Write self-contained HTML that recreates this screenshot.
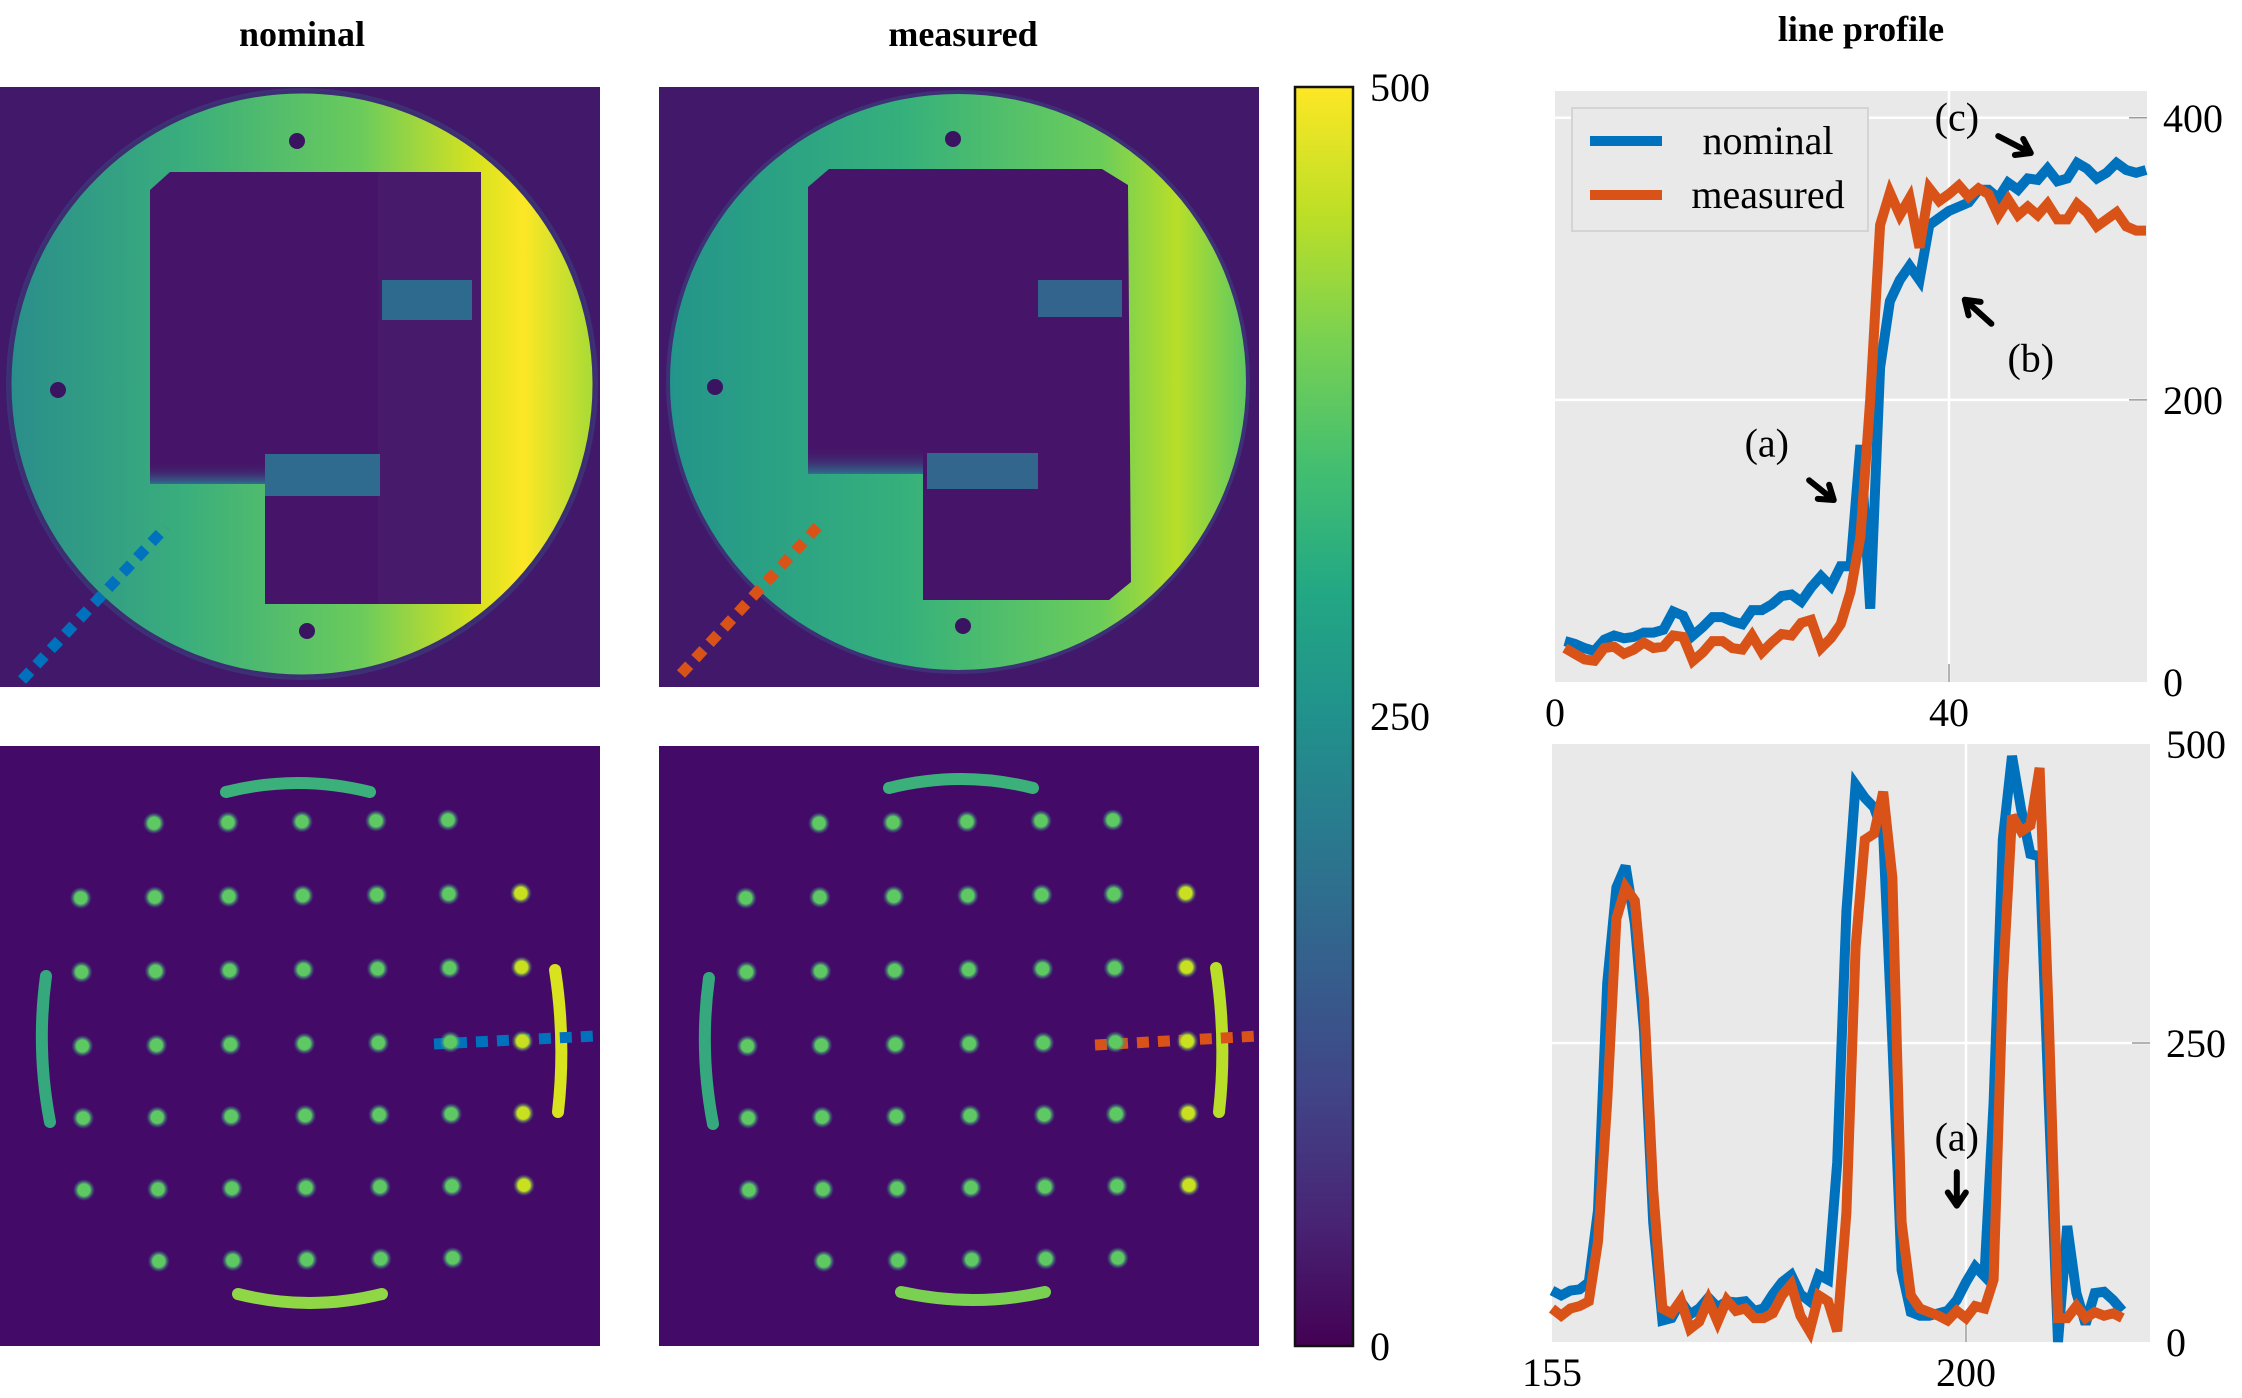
<!DOCTYPE html>
<html><head><meta charset="utf-8"><style>
html,body{margin:0;padding:0;background:#fff;}
#root{position:relative;width:2242px;height:1398px;overflow:hidden;font-family:"Liberation Serif",serif;}
svg text{font-family:"Liberation Serif",serif;}
</style></head><body>
<div id="root">
<svg id="fig" width="2242" height="1398" viewBox="0 0 2242 1398" xmlns="http://www.w3.org/2000/svg">
<defs>
  <linearGradient id="gNom" x1="0" y1="0" x2="1" y2="0">
    <stop offset="0" stop-color="#2a8e8b"/><stop offset="0.3" stop-color="#3aae7c"/>
    <stop offset="0.6" stop-color="#6acb5c"/><stop offset="0.8" stop-color="#d8e21f"/>
    <stop offset="0.88" stop-color="#fde725"/><stop offset="1" stop-color="#a6db36"/>
  </linearGradient>
  <linearGradient id="gMea" x1="0" y1="0" x2="1" y2="0">
    <stop offset="0" stop-color="#23958a"/><stop offset="0.4" stop-color="#35b07c"/>
    <stop offset="0.75" stop-color="#6ccd5a"/><stop offset="0.88" stop-color="#b8de29"/>
    <stop offset="1" stop-color="#5fc961"/>
  </linearGradient>
  <linearGradient id="viridis" x1="0" y1="1" x2="0" y2="0">
    <stop offset="0" stop-color="#440154"/><stop offset="0.1" stop-color="#482475"/>
    <stop offset="0.2" stop-color="#414487"/><stop offset="0.3" stop-color="#355f8d"/>
    <stop offset="0.4" stop-color="#2a788e"/><stop offset="0.5" stop-color="#21918c"/>
    <stop offset="0.6" stop-color="#22a884"/><stop offset="0.7" stop-color="#44bf70"/>
    <stop offset="0.8" stop-color="#7ad151"/><stop offset="0.9" stop-color="#bddf26"/>
    <stop offset="1" stop-color="#fde725"/>
  </linearGradient>
  <linearGradient id="fadeBand" x1="0" y1="0" x2="0" y2="1">
    <stop offset="0" stop-color="#451466" stop-opacity="0"/><stop offset="1" stop-color="#2f6f8e"/>
  </linearGradient>
  <radialGradient id="dotG"><stop offset="0.55" stop-color="#5ec962"/><stop offset="1" stop-color="#2a788e" stop-opacity="0"/></radialGradient>
  <radialGradient id="dotY"><stop offset="0.55" stop-color="#c8e020"/><stop offset="1" stop-color="#2a788e" stop-opacity="0"/></radialGradient>
</defs>

<text x="302" y="46" text-anchor="middle" font-size="36" font-weight="bold">nominal</text>
<text x="963" y="46" text-anchor="middle" font-size="36" font-weight="bold">measured</text>
<text x="1861" y="41" text-anchor="middle" font-size="36" font-weight="bold">line profile</text>

<g transform="translate(0,87)">
  <rect width="600" height="600" fill="#42196a"/>
  <circle cx="302" cy="297" r="296" fill="#3a3f7e" opacity="0.6"/>
  <circle cx="302" cy="297" r="292" fill="url(#gNom)" stroke="#3b2f72" stroke-width="3"/>
  <polygon points="150,103 170,85 468,85 481,100 481,503 466,517 265,517 265,397 150,397" fill="#461569"/>
  <rect x="378" y="85" width="103" height="432" fill="#471a6b"/>
  <rect x="150" y="375" width="115" height="22" fill="url(#fadeBand)"/>
  <rect x="265" y="367" width="115" height="42" fill="#2f6b8e"/>
  <rect x="382" y="193" width="90" height="40" fill="#2e6a8e"/>
  <circle cx="297" cy="54" r="8" fill="#3a1460"/>
  <circle cx="58" cy="303" r="8" fill="#3a1460"/>
  <circle cx="307" cy="544" r="8" fill="#3a1460"/>
  <line x1="22" y1="593" x2="166" y2="440" stroke="#0072bd" stroke-width="11" stroke-dasharray="12 9"/>
</g>
<g transform="translate(659,87)">
  <rect width="600" height="600" fill="#42196a"/>
  <circle cx="299" cy="295" r="292" fill="#3a3f7e" opacity="0.6"/>
  <circle cx="299" cy="295" r="288" fill="url(#gMea)"/>
  <polygon points="149,100 170,82 443,82 469,98 472,495 450,513 264,513 264,387 149,387" fill="#461569"/>
  <rect x="149" y="360" width="115" height="27" fill="url(#fadeBand)"/>
  <rect x="268" y="366" width="111" height="36" fill="#32668d"/>
  <rect x="379" y="193" width="84" height="37" fill="#32648d"/>
  <circle cx="294" cy="52" r="8" fill="#3a1460"/>
  <circle cx="56" cy="300" r="8" fill="#3a1460"/>
  <circle cx="304" cy="539" r="8" fill="#3a1460"/>
  <line x1="22" y1="587" x2="164" y2="434" stroke="#d95319" stroke-width="11" stroke-dasharray="12 9"/>
</g>
<g id="dotsNom" transform="translate(0,746)">
  <rect width="600" height="600" fill="#440a68"/>
  <path d="M226,46 Q298,28 370,46" stroke="#3bb07a" stroke-width="12" fill="none" stroke-linecap="round"/>
  <path d="M238,548 Q310,566 382,548" stroke="#8fd744" stroke-width="12" fill="none" stroke-linecap="round"/>
  <path d="M46,230 Q36,303 50,376" stroke="#35a87d" stroke-width="12" fill="none" stroke-linecap="round"/>
  <path d="M555,224 Q566,295 558,366" stroke="#d8e21f" stroke-width="12" fill="none" stroke-linecap="round"/>
  <line x1="434" y1="298" x2="596" y2="290" stroke="#0072bd" stroke-width="11" stroke-dasharray="12 9"/>
</g>
<g id="dotsMea" transform="translate(659,746)">
  <rect width="600" height="600" fill="#440a68"/>
  <path d="M230,42 Q302,24 374,42" stroke="#3bb07a" stroke-width="12" fill="none" stroke-linecap="round"/>
  <path d="M242,546 Q314,562 386,546" stroke="#7ad151" stroke-width="12" fill="none" stroke-linecap="round"/>
  <path d="M50,232 Q40,305 54,378" stroke="#35a87d" stroke-width="12" fill="none" stroke-linecap="round"/>
  <path d="M557,222 Q568,295 560,366" stroke="#b8de29" stroke-width="12" fill="none" stroke-linecap="round"/>
  <line x1="436" y1="299" x2="600" y2="290" stroke="#d95319" stroke-width="11" stroke-dasharray="12 9"/>
</g>

<rect x="1295" y="87" width="58" height="1259" fill="url(#viridis)" stroke="#111" stroke-width="2.5"/>
<text x="1370" y="101" font-size="40">500</text>
<text x="1370" y="730" font-size="40">250</text>
<text x="1370" y="1360" font-size="40">0</text>

<g id="chartTop"></g>
<g id="chartBot"></g>
</svg>
</div>
<script>
const topX = Array.from({length:60},(_,i)=>i+1);
const topNominal = [29,27,24,22,30,33,31,32,35,35,37,50,47,33,39,46,46,43,41,51,51,55,61,62,57,67,75,68,82,82,168,52,223,270,285,295,285,324,329,334,337,340,349,349,343,354,349,357,356,364,355,357,368,364,357,361,368,363,361,363];
const topMeasured = [24,20,16,15,24,25,20,23,28,24,25,33,32,15,21,29,29,24,23,33,21,28,34,33,42,44,24,31,41,64,103,200,324,347,331,343,308,350,341,346,352,344,350,346,331,342,331,337,331,339,328,328,339,333,323,328,333,323,320,320];
const topXTicks = [0,40];
const topYTicks = [0,200,400];
const botX = Array.from({length:63},(_,i)=>i+155);
const botNominal = [43,39,43,44,50,110,300,380,398,350,260,100,18,20,34,23,28,37,29,34,33,34,26,28,40,50,56,40,34,56,52,150,360,466,455,447,425,250,60,25,22,22,24,26,35,50,63,55,200,420,490,445,408,406,200,0,97,41,15,41,42,35,26];
const botMeasured = [28,22,28,30,34,84,201,354,380,369,287,127,28,24,35,11,17,35,17,35,26,28,20,20,24,39,48,22,9,39,34,9,108,330,420,425,460,388,100,39,28,25,22,18,26,20,30,28,52,300,440,427,432,480,270,20,20,30,20,25,22,24,20];
const botXTicks = [155,200];
const botYTicks = [0,250,500];

const NS='http://www.w3.org/2000/svg';
function mk(tag, attrs, parent){const e=document.createElementNS(NS,tag);for(const k in attrs)e.setAttribute(k,attrs[k]);parent.appendChild(e);return e;}

function drawChart(g, cfg){
  const {x0,x1,y0,y1,dx0,dx1,dy0,dy1}=cfg;
  const sx=v=>x0+(v-dx0)/(dx1-dx0)*(x1-x0);
  const sy=v=>y1-(v-dy0)/(dy1-dy0)*(y1-y0);
  const bg=mk('rect',{x:x0,y:y0,width:x1-x0,height:y1-y0,fill:'#e9e9e9'},g);
  
  
  cfg.yt.forEach(t=>{
    if(t>dy0&&t<dy1){const l=mk('line',{x1:x0,x2:x1,y1:sy(t),y2:sy(t),stroke:'#fff','stroke-width':2.5},g);
      
      
      const tk=mk('line',{x1:x1-18,x2:x1,y1:sy(t),y2:sy(t),stroke:'#999','stroke-width':1.5},g);
      
      }
    const tx=mk('text',{x:x1+16,y:sy(t)+14,'font-size':40},g);tx.textContent=t;
    
    
  });
  cfg.xt.forEach(t=>{
    if(t>dx0&&t<dx1){const l=mk('line',{x1:sx(t),x2:sx(t),y1:y0,y2:y1,stroke:'#fff','stroke-width':2.5},g);
      
      
      const tk=mk('line',{x1:sx(t),x2:sx(t),y1:y1-18,y2:y1,stroke:'#999','stroke-width':1.5},g);
      
      }
    const tx=mk('text',{x:sx(t),y:cfg.xly,'font-size':40,'text-anchor':'middle'},g);tx.textContent=t;
    
    
  });
  const series=[[cfg.n,'#0072bd','nominal-line'],[cfg.m,'#d95319','measured-line']];
  series.forEach(([vals,col,name])=>{
    const pts=vals.map((v,i)=>sx(cfg.xs[i]).toFixed(1)+','+sy(v).toFixed(1)).join(' ');
    const p=mk('polyline',{points:pts,fill:'none',stroke:col,'stroke-width':10,'stroke-linejoin':'miter','stroke-miterlimit':3},g);
    
    
  });
  return {sx,sy};
}
function arrow(g,xa,ya,xb,yb,name){
  const a=Math.atan2(yb-ya,xb-xa),h=16;
  const p=mk('path',{d:`M${xa},${ya}L${xb},${yb}M${xb-h*Math.cos(a-0.6)},${yb-h*Math.sin(a-0.6)}L${xb},${yb}L${xb-h*Math.cos(a+0.6)},${yb-h*Math.sin(a+0.6)}`,stroke:'#000','stroke-width':6,fill:'none','stroke-linecap':'round','stroke-linejoin':'round'},g);
  
  
}
function label(g,x,y,s,name){const t=mk('text',{x:x,y:y,'font-size':40,'text-anchor':'middle'},g);t.textContent=s;
  
  }

const gT=document.getElementById('chartTop');
const T=drawChart(gT,{x0:1555,x1:2147,y0:91,y1:682,dx0:0,dx1:60.1,dy0:0,dy1:419,xs:topX,n:topNominal,m:topMeasured,xt:topXTicks,yt:topYTicks,xly:726});
label(gT,T.sx(21.5),T.sy(160),'(a)','annotation-a-top');
arrow(gT,T.sx(25.8),T.sy(143),T.sx(28.3),T.sy(129),'arrow-a-top');
label(gT,T.sx(48.3),T.sy(220),'(b)','annotation-b');
arrow(gT,T.sx(44.3),T.sy(254),T.sx(41.6),T.sy(271),'arrow-b');
label(gT,T.sx(40.8),T.sy(391),'(c)','annotation-c');
arrow(gT,T.sx(45),T.sy(387),T.sx(48.3),T.sy(375),'arrow-c');
const lg=mk('g',{},gT);


mk('rect',{x:1572,y:108,width:296,height:123,fill:'#e9e9e9',stroke:'#d4d4d4','stroke-width':2},lg);
const l1=mk('line',{x1:1590,x2:1662,y1:141,y2:141,stroke:'#0072bd','stroke-width':10},lg);


const l2=mk('line',{x1:1590,x2:1662,y1:195,y2:195,stroke:'#d95319','stroke-width':10},lg);


const t1=mk('text',{x:1768,y:154,'font-size':40,'text-anchor':'middle'},lg);t1.textContent='nominal';


const t2=mk('text',{x:1768,y:208,'font-size':40,'text-anchor':'middle'},lg);t2.textContent='measured';



const gB=document.getElementById('chartBot');
const B=drawChart(gB,{x0:1552,x1:2150,y0:744,y1:1342,dx0:155,dx1:220,dy0:0,dy1:500,xs:botX,n:botNominal,m:botMeasured,xt:botXTicks,yt:botYTicks,xly:1386});
label(gB,B.sx(199),B.sy(160),'(a)','annotation-a-bottom');
arrow(gB,B.sx(199),B.sy(142),B.sx(199),B.sy(114),'arrow-a-bottom');

const dotRows=[78,152,226,300,372,444,516];
const dotCols=[80,154,228,302,376,448,520];
function dots(id,dx){
  const g=document.getElementById(id);
  dotRows.forEach((ry,ri)=>{dotCols.forEach((cx,ci)=>{
    if((ri===0||ri===6)&&(ci===0||ci===6))return;
    const c=mk('circle',{cx:cx+dx+ri*0.8,cy:ry-ci*0.8,r:11,fill:ci===6?'url(#dotY)':'url(#dotG)'},g);
    
    
  });});
}
dots('dotsNom',0);
dots('dotsMea',6);
</script>
</body></html>
